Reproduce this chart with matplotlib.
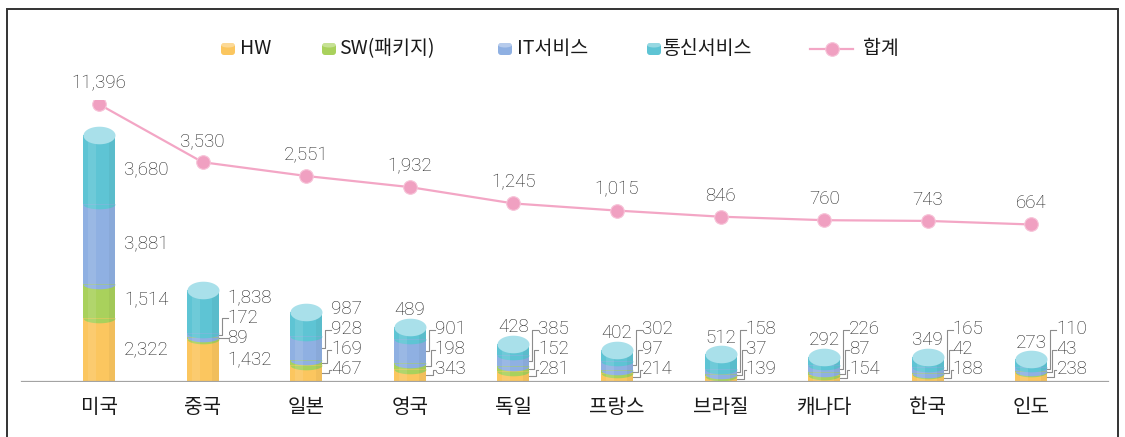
import numpy as np
import matplotlib
matplotlib.use('Agg')
import matplotlib.pyplot as plt
from matplotlib.path import Path
from matplotlib.lines import Line2D
from matplotlib.patches import FancyBboxPatch, Ellipse, Rectangle
from matplotlib.transforms import IdentityTransform

plt.rcParams['font.family'] = ['Noto Sans CJK KR', 'DejaVu Sans']

# data
countries = ['미국', '중국', '일본', '영국', '독일', '프랑스', '브라질', '캐나다', '한국', '인도']
hw = [2322, 1432, 467, 343, 281, 214, 139, 154, 188, 238]
sw = [1514, 89, 169, 198, 152, 97, 37, 87, 42, 43]
it_svc = [3881, 172, 928, 901, 385, 302, 158, 226, 165, 110]
telecom = [3680, 1838, 987, 489, 428, 402, 512, 292, 349, 273]
totals = [11396, 3530, 2551, 1932, 1245, 1015, 846, 760, 743, 664]
series_names = ['HW', 'SW(패키지)', 'IT서비스', '통신서비스']
total_name = '합계'

seg_colors = ['#fbc65f', '#a9d15c', '#8fb0e2', '#5ec4d4']
top_color = '#a9e0ea'
pink = '#f3a6c5'
txt_color = '#222222'
num_font = dict(family=['Roboto', 'DejaVu Sans'], fontweight='light', fontsize=13.5, color=txt_color)

W, H = 1125, 437
base_px = 381.5          # baseline, pixels from top
top_px = 100
fig = plt.figure(figsize=(W / 100, H / 100), dpi=100)
ax = fig.add_axes([0, (H - base_px) / H, 1, (base_px - top_px) / H])

step = 103.6
x0 = 99
ax.set_xlim(-x0 / step, (W - x0) / step)
bw = 32 / step

# bars use a mild power scale, totals line a stronger one
ax.set_yscale('function', functions=(lambda v: np.sign(v) * np.abs(v) ** 0.85,
                                     lambda v: np.sign(v) * np.abs(v) ** (1 / 0.85)))
ax.set_ylim(0, 13300)
ax2 = ax.twinx()
ax2.set_yscale('function', functions=(lambda v: np.sign(v) * np.abs(v) ** 0.2,
                                      lambda v: np.sign(v) * np.abs(v) ** 5))
ax2.set_ylim(0, 12300)
for a in (ax, ax2):
    a.axis('off')

# cylinder markers
t = np.linspace(0, 2 * np.pi, 60)
ell_ratio = 0.55
full_ell = Path(np.column_stack([np.cos(t), ell_ratio * np.sin(t)]), closed=False)
th = np.linspace(np.pi, 2 * np.pi, 30)
half_ell = Path(np.column_stack([np.cos(th), 0.3 * np.sin(th)]))
ms = 32 * 72 / 100
ell_half_h = 16 * ell_ratio

segs = [hw, sw, it_svc, telecom]
xs = np.arange(len(countries))
for i in xs:
    cum = 0
    for k, s in enumerate(segs):
        ax.bar(i, s[i], bottom=cum, width=bw, color=seg_colors[k], linewidth=0, zorder=2 + k * 0.1)
        if k > 0:
            ax.plot(i, cum, marker=half_ell, ms=ms, color=seg_colors[k], mew=0,
                    linestyle='none', zorder=2 + k * 0.1 + 0.05)
        cum += s[i]
    ax.plot(i, cum, marker=full_ell, ms=ms, color=top_color, mew=0, linestyle='none', zorder=3)
    # soft shading: lighter left, darker right
    ax.bar(i - bw * 0.22, cum, width=bw * 0.25, color='white', alpha=0.10, linewidth=0, zorder=2.6)
    ax.bar(i + bw * 0.4, cum, width=bw * 0.2, color='black', alpha=0.04, linewidth=0, zorder=2.6)

ax.axhline(0, xmin=22 / W, xmax=1108 / W, color='#a3a3a3', lw=1.6, zorder=5)

# value labels for segments
idt = IdentityTransform()
for i in xs:
    bounds = np.cumsum([0] + [s[i] for s in segs])
    xr = ax.transData.transform((i + bw / 2, 0))[0]
    xc = ax.transData.transform((i, 0))[0]
    base_y = ax.transData.transform((i, 0))[1]
    top_y = ax.transData.transform((i, bounds[-1]))[1] + ell_half_h
    prev = None
    for k, s in enumerate(segs):
        lo = ax.transData.transform((i, bounds[k]))[1]
        hi = ax.transData.transform((i, bounds[k + 1]))[1]
        mid = (lo + hi) / 2
        y = max(mid, base_y + 12) if prev is None else max(mid, prev + 20)
        prev = y
        label = f'{s[i]:,}'
        if k == 3 and y > top_y:
            ax.text(xc, top_y + 8, label, transform=idt, ha='center', va='center', **num_font)
            continue
        hi_eff = hi + (ell_half_h if k == 3 else 0)
        if (hi - lo) < 18 or not (lo + 4 <= y <= hi_eff - 4):
            xv = xr + [7, 5, 3, 3][k]
            ax.add_line(Line2D([xr, xv, xv, xr + 9], [mid, mid, y, y], transform=idt,
                               color='#8c8c8c', lw=0.8, zorder=6))
        ax.text(xr + 9, y, label, transform=idt, ha='left', va='center', **num_font)

# totals line
ax2.plot(xs, totals, color=pink, lw=1.6, marker='o', ms=9.8, mfc='#f0a0c1',
         mec='#f7c3d8', mew=0.8, zorder=7)
for i in xs:
    ax2.annotate(f'{totals[i]:,}', (i, totals[i]), xytext=(0, 21), textcoords='offset pixels',
                 ha='center', va='center', **num_font)

# country names
for i in xs:
    ax.annotate(countries[i], (i, 0), xytext=(0, -26), textcoords='offset pixels',
                ha='center', va='center', fontsize=14.5, color='#1a1a1a')

# legend drawn by hand
leg_y = H - 49
icon_x = [221, 322, 498, 647]
text_x = [240, 339, 517, 662]
for k in range(4):
    fig.patches.append(FancyBboxPatch((icon_x[k], leg_y - 6), 14, 12,
                                      boxstyle='round,pad=0,rounding_size=3',
                                      transform=idt, color=seg_colors[k], lw=0))
    fig.patches.append(Ellipse((icon_x[k] + 7, leg_y + 4), 14, 5, transform=idt,
                               color='white', alpha=0.35, lw=0))
    fig.text(text_x[k], leg_y, series_names[k], transform=idt, ha='left', va='center',
             fontsize=14, color='#1a1a1a')
fig.add_artist(Line2D([810, 853], [leg_y, leg_y], transform=idt, color=pink, lw=1.6))
fig.add_artist(Line2D([832], [leg_y], transform=idt, marker='o', ms=9.8, mfc='#f0a0c1',
                      mec='#f7c3d8', mew=0.8, linestyle='none'))
fig.text(863, leg_y, total_name, transform=idt, ha='left', va='center', fontsize=14, color='#1a1a1a')

# outer frame
fig.patches.append(Rectangle((6.5, -5), 1111, H - 8.5 + 5, transform=idt, fill=False,
                             edgecolor='#333333', lw=1.4))

fig.savefig('out.png', dpi=100)
